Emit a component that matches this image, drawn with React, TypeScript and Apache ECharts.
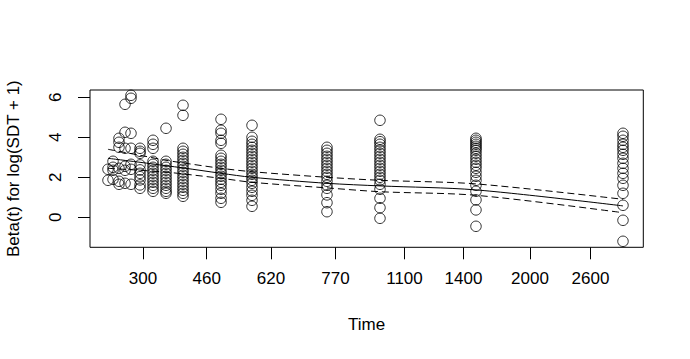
import React, { useEffect, useRef } from "react";
import * as echarts from "echarts";

// Transformed time scale (0..1 across the plot box)
const tickPositions = [0.0958, 0.2109, 0.3271, 0.4437, 0.5684, 0.675, 0.7952, 0.9046];
const tickLabels = ["300", "460", "620", "770", "1100", "1400", "2000", "2600"];
const yTicks = [0, 2, 4, 6];

// Residual columns (x position on transformed scale, y values)
const colX = [0.0325, 0.0416, 0.0524, 0.0633, 0.0741, 0.0904, 0.1139, 0.1374, 0.1681, 0.2368, 0.2928, 0.4283, 0.5241, 0.6976, 0.9633];
const colY: number[][] = [
  [2.4, 1.85],
  [2.8, 2.5, 2.35, 1.9],
  [3.95, 3.75, 3.5, 2.45, 1.8, 1.65],
  [5.65, 4.25, 3.45, 2.55, 2.35, 1.7],
  [6.1, 5.95, 4.2, 3.45, 2.65, 2.4, 1.65],
  [3.45, 3.3, 3.2, 2.62, 2.37, 2.2, 2.03, 1.87, 1.62, 1.45],
  [3.85, 3.65, 3.45, 2.8, 2.65, 2.5, 2.35, 2.2, 2.05, 1.9, 1.75, 1.6, 1.45, 1.3],
  [4.45, 2.8, 2.65, 2.5, 2.35, 2.2, 2.05, 1.9, 1.75, 1.6, 1.45, 1.3, 1.2],
  [5.6, 5.1, 3.45, 3.3, 3.15, 3.0, 2.85, 2.7, 2.55, 2.4, 2.25, 2.1, 1.95, 1.8, 1.65, 1.5, 1.35, 1.2, 1.05],
  [4.9, 4.35, 4.2, 3.85, 3.7, 3.1, 2.95, 2.8, 2.65, 2.5, 2.35, 2.2, 2.05, 1.9, 1.75, 1.6, 1.4, 1.2, 0.95, 0.75],
  [4.6, 4.0, 3.8, 3.65, 3.5, 3.35, 3.2, 3.05, 2.9, 2.75, 2.6, 2.45, 2.3, 2.15, 2.0, 1.85, 1.7, 1.5, 1.3, 1.1, 0.85, 0.55],
  [3.5, 3.35, 3.2, 3.05, 2.9, 2.75, 2.6, 2.45, 2.3, 2.15, 2.0, 1.8, 1.6, 1.45, 1.12, 0.73, 0.28],
  [4.85, 3.9, 3.78, 3.65, 3.5, 3.35, 3.2, 3.05, 2.9, 2.75, 2.6, 2.45, 2.3, 2.15, 2.0, 1.85, 1.65, 1.4, 0.95, 0.48, -0.05],
  [3.95, 3.85, 3.75, 3.65, 3.55, 3.45, 3.35, 3.2, 3.05, 2.9, 2.75, 2.6, 2.45, 2.25, 2.05, 1.85, 1.6, 1.3, 0.87, 0.37, -0.45],
  [4.2, 4.05, 3.85, 3.65, 3.5, 3.35, 3.15, 2.95, 2.7, 2.45, 2.2, 1.95, 1.6, 1.2, 0.6, -0.15, -1.2],
];

// Fitted beta(t) and confidence band
const fitX = [0.0325, 0.0904, 0.1374, 0.1681, 0.2368, 0.2928, 0.4283, 0.5241, 0.6976, 0.9633];
const fitY = [2.95, 2.75, 2.58, 2.47, 2.2, 2.0, 1.7, 1.57, 1.37, 0.57];
const upperY = [3.4, 3.1, 2.85, 2.72, 2.45, 2.28, 2.0, 1.85, 1.67, 0.9];
const lowerY = [2.45, 2.35, 2.26, 2.17, 1.95, 1.75, 1.47, 1.28, 1.1, 0.23];

const FONT = "'Liberation Sans', Arial, sans-serif";

export default function App() {
  const ref = useRef<HTMLDivElement>(null);
  useEffect(() => {
    if (!ref.current) return;
    const chart = echarts.init(ref.current, null, { renderer: "svg" });
    const points: number[][] = [];
    colX.forEach((x, i) => colY[i].forEach((y) => points.push([x, y])));
    const pair = (ys: number[]) => fitX.map((x, i) => [x, ys[i]]);
    const labelFor = (v: number) => {
      const i = tickPositions.findIndex((p) => Math.abs(p - v) < 1e-6);
      return i >= 0 ? tickLabels[i] : "";
    };
    chart.setOption({
      animation: false,
      backgroundColor: "#fff",
      textStyle: { fontFamily: FONT },
      grid: {
        left: 90,
        top: 90,
        width: 553.3,
        height: 157.3,
        containLabel: false,
        outerBoundsMode: "none",
        show: true,
        borderColor: "#000",
        borderWidth: 1,
        backgroundColor: "transparent",
      },
      xAxis: {
        type: "value",
        min: 0,
        max: 1,
        position: "bottom",
        name: "Time",
        nameLocation: "middle",
        nameGap: 69,
        nameTextStyle: { fontSize: 17, color: "#000", fontFamily: FONT, verticalAlign: "top" },
        axisLine: { show: false, onZero: false },
        splitLine: { show: false },
        axisTick: { show: true, inside: false, length: 12, customValues: tickPositions, lineStyle: { color: "#000", width: 1 } },
        axisLabel: {
          customValues: tickPositions,
          formatter: (v: number) => labelFor(v),
          fontSize: 17,
          color: "#000",
          fontFamily: FONT,
          margin: 23,
        },
      },
      yAxis: {
        type: "value",
        min: -1.5,
        max: 6.365,
        position: "left",
        name: "Beta(t) for log(SDT + 1)",
        nameLocation: "middle",
        nameGap: 68,
        nameTextStyle: { fontSize: 17, color: "#000", fontFamily: FONT },
        axisLine: { show: false, onZero: false },
        splitLine: { show: false },
        axisTick: { show: true, inside: false, length: 12, customValues: yTicks, lineStyle: { color: "#000", width: 1 } },
        axisLabel: {
          customValues: yTicks,
          rotate: 90,
          fontSize: 17,
          color: "#000",
          fontFamily: FONT,
          margin: 26,
        },
      },
      series: [
        {
          type: "scatter",
          data: points,
          symbol: "circle",
          symbolSize: 10.5,
          itemStyle: { color: "rgba(0,0,0,0)", borderColor: "#000", borderWidth: 1 },
          z: 3,
        },
        {
          type: "line",
          data: pair(fitY),
          smooth: 0.3,
          showSymbol: false,
          lineStyle: { color: "#000", width: 1 },
          z: 2,
        },
        {
          type: "line",
          data: pair(upperY),
          smooth: 0.3,
          showSymbol: false,
          lineStyle: { color: "#000", width: 1, type: [7, 4] },
          z: 2,
        },
        {
          type: "line",
          data: pair(lowerY),
          smooth: 0.3,
          showSymbol: false,
          lineStyle: { color: "#000", width: 1, type: [7, 4] },
          z: 2,
        },
      ],
    });
    return () => chart.dispose();
  }, []);
  return (
    <div
      ref={ref}
      style={{ position: "fixed", left: 0, top: 0, width: 690, height: 359, background: "#fff" }}
    />
  );
}
